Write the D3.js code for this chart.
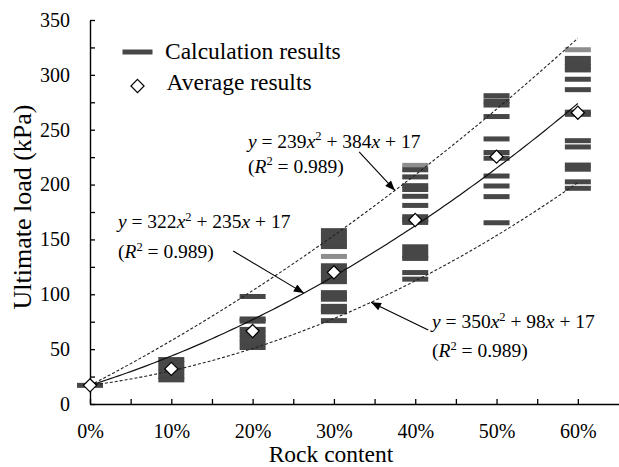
<!DOCTYPE html>
<html>
<head>
<meta charset="utf-8">
<script src="https://cdn.jsdelivr.net/npm/d3@7"></script>
<style>
  html, body { margin: 0; padding: 0; background: #fff; }
  svg { display: block; }
  text { font-family: "Liberation Serif", "Times New Roman", serif; fill: #000; }
</style>
</head>
<body>
<svg id="chart" width="619" height="467"></svg>
<script>
// Rock content categories (fraction)
const rockContent = [0, 0.1, 0.2, 0.3, 0.4, 0.5, 0.6];

// Calculated ultimate loads (kPa) for each rock content
const calc0  = [17];
const calc10 = [40.5, 37, 33, 29, 25, 22];
const calc20 = [98, 77.5, 75.5, 68, 64, 60, 56, 51.5];
const calc30 = [158, 154, 150, 146, 143.5, 126, 122, 118.5, 115, 111.5, 101.5, 98, 95.5, 89, 86, 84, 76];
const calc40 = [213.5, 207, 199, 195.5, 189.3, 181, 170.7, 168, 165.5, 143.3, 139, 135, 132.7, 119.8, 113.8];
const calc50 = [281, 276.2, 272.5, 262, 241.6, 229.2, 224, 207.8, 198.7, 189, 165.2];
const calc60 = [315, 311, 307.5, 304.5, 296, 286.5, 266, 264, 240, 234.3, 217.8, 214, 202.5, 196.6];
const calcValues = [calc0, calc10, calc20, calc30, calc40, calc50, calc60];

// Lighter calculation markers
const lightValues = [[], [], [], [134.5], [217.5], [], [322.9]];

// Average results (kPa)
const averages = [17, 32, 66.5, 120, 167.7, 225.4, 265.5];

// Fitted curves: y = a x^2 + b x + c
const fitUpper  = [239, 384, 17];
const fitMiddle = [322, 235, 17];
const fitLower  = [350, 98, 17];
const fitR2 = 0.989;

// Axis ticks
const yTicks = d3.range(0, 351, 25);
const xTicks = d3.range(0, 13).map(i => i * 0.05);

const svg = d3.select("#chart");
const x = d3.scaleLinear().domain([0, 0.65]).range([90, 618.5]);
const y = d3.scaleLinear().domain([0, 350]).range([404, 20]);
const poly = (c, t) => c[0] * t * t + c[1] * t + c[2];

// Axes
const yAxis = d3.axisLeft(y).tickValues(yTicks).tickSizeInner(-5).tickSizeOuter(0)
  .tickPadding(20).tickFormat(d => d % 50 === 0 ? d : "");
const xAxis = d3.axisBottom(x).tickValues(xTicks).tickSizeInner(-5).tickSizeOuter(0)
  .tickPadding(20).tickFormat(d => Math.round(d * 100) % 10 === 0 ? Math.round(d * 100) + "%" : "");

const gy = svg.append("g").attr("transform", `translate(${x(0)},0)`).call(yAxis);
const gx = svg.append("g").attr("transform", `translate(0,${y(0)})`).call(xAxis);
[gx, gy].forEach(g => {
  g.select(".domain").attr("stroke", "#000").attr("stroke-width", 1.4);
  g.selectAll(".tick line").attr("stroke", "#000").attr("stroke-width", 1.3);
  g.selectAll(".tick text").attr("font-size", 20)
    .attr("font-family", '"Liberation Serif", "Times New Roman", serif').attr("fill", "#000");
});

// Axis titles
svg.append("text").attr("x", 331).attr("y", 462)
  .attr("text-anchor", "middle").attr("font-size", 23.5).text("Rock content");
svg.append("text").attr("transform", `translate(31,207) rotate(-90)`)
  .attr("text-anchor", "middle").attr("font-size", 26).text("Ultimate load (kPa)");

// Calculation result markers
const barW = 26, barH = 5;
const marks = svg.append("g");
rockContent.forEach((rc, i) => {
  marks.selectAll(null).data(lightValues[i]).join("rect")
    .attr("x", x(rc) - barW / 2).attr("y", d => y(d) - barH / 2)
    .attr("width", barW).attr("height", barH).attr("fill", "#8d8d8d");
  marks.selectAll(null).data(calcValues[i]).join("rect")
    .attr("x", x(rc) - barW / 2).attr("y", d => y(d) - barH / 2)
    .attr("width", barW).attr("height", barH).attr("fill", "#474747");
});

// Fitted curves
const ts = d3.range(0, 0.6001, 0.005);
const line = d3.line().x(t => x(t));
function drawFit(c, dashed) {
  svg.append("path").datum(ts)
    .attr("d", line.y(t => y(poly(c, t))))
    .attr("fill", "none")
    .attr("stroke", dashed ? "#222" : "#111")
    .attr("stroke-width", dashed ? 1.1 : 1.2)
    .attr("stroke-dasharray", dashed ? "3,2" : null);
}
drawFit(fitUpper, true);
drawFit(fitLower, true);
drawFit(fitMiddle, false);

// Average result diamonds
const diamond = d3.symbol().type(d3.symbolDiamond2).size(110);
svg.append("g").selectAll("path").data(averages).join("path")
  .attr("transform", (d, i) => `translate(${x(rockContent[i])},${y(d)})`)
  .attr("d", diamond).attr("fill", "#fff").attr("stroke", "#000").attr("stroke-width", 1.2);

// Arrow annotations
const defs = svg.append("defs");
defs.append("marker").attr("id", "arrowhead").attr("markerUnits", "userSpaceOnUse")
  .attr("viewBox", "0 0 10 8").attr("refX", 10).attr("refY", 4)
  .attr("markerWidth", 11).attr("markerHeight", 8).attr("orient", "auto")
  .append("path").attr("d", "M0,0L10,4L0,8Z").attr("fill", "#000");

function arrow(fromT, fromV, toT, coef) {
  svg.append("line")
    .attr("x1", x(fromT)).attr("y1", y(fromV))
    .attr("x2", x(toT)).attr("y2", y(poly(coef, toT)))
    .attr("stroke", "#000").attr("stroke-width", 1.1)
    .attr("marker-end", "url(#arrowhead)");
}
arrow(0.331, 229.7, 0.375, fitUpper);
arrow(0.176, 139.5, 0.263, fitMiddle);
arrow(0.416, 67.5, 0.3456, fitLower);

// Equation labels
function equation(t, v, c, gap) {
  const fs = 19.5;
  const g = svg.append("g").attr("font-size", fs);
  const t1 = g.append("text").attr("x", x(t)).attr("y", y(v));
  t1.append("tspan").attr("font-style", "italic").text("y");
  t1.append("tspan").text(` = ${c[0]}`);
  t1.append("tspan").attr("font-style", "italic").text("x");
  t1.append("tspan").attr("font-size", 12.5).attr("dy", -7.5).text("2");
  t1.append("tspan").attr("dy", 7.5).text(` + ${c[1]}`);
  t1.append("tspan").attr("font-style", "italic").text("x");
  t1.append("tspan").text(` + ${c[2]}`);
  const t2 = g.append("text").attr("x", x(t)).attr("y", y(v) + gap);
  t2.append("tspan").text("(");
  t2.append("tspan").attr("font-style", "italic").text("R");
  t2.append("tspan").attr("font-size", 12.5).attr("dy", -7.5).text("2");
  t2.append("tspan").attr("dy", 7.5).text(` = ${fitR2})`);
}
equation(0.1943, 233.5, fitUpper, 25);
equation(0.0344, 160, fitMiddle, 30);
equation(0.4207, 69, fitLower, 29);

// Legend
const lg = svg.append("g");
lg.append("rect").attr("x", 122.5).attr("y", 49.5).attr("width", 30).attr("height", 5).attr("fill", "#474747");
lg.append("text").attr("x", 165).attr("y", 58.5).attr("font-size", 23.5).text("Calculation results");
lg.append("path").attr("transform", "translate(137.5,86)").attr("d", diamond)
  .attr("fill", "#fff").attr("stroke", "#000").attr("stroke-width", 1.2);
lg.append("text").attr("x", 166.5).attr("y", 90).attr("font-size", 23.5).text("Average results");
</script>
</body>
</html>
